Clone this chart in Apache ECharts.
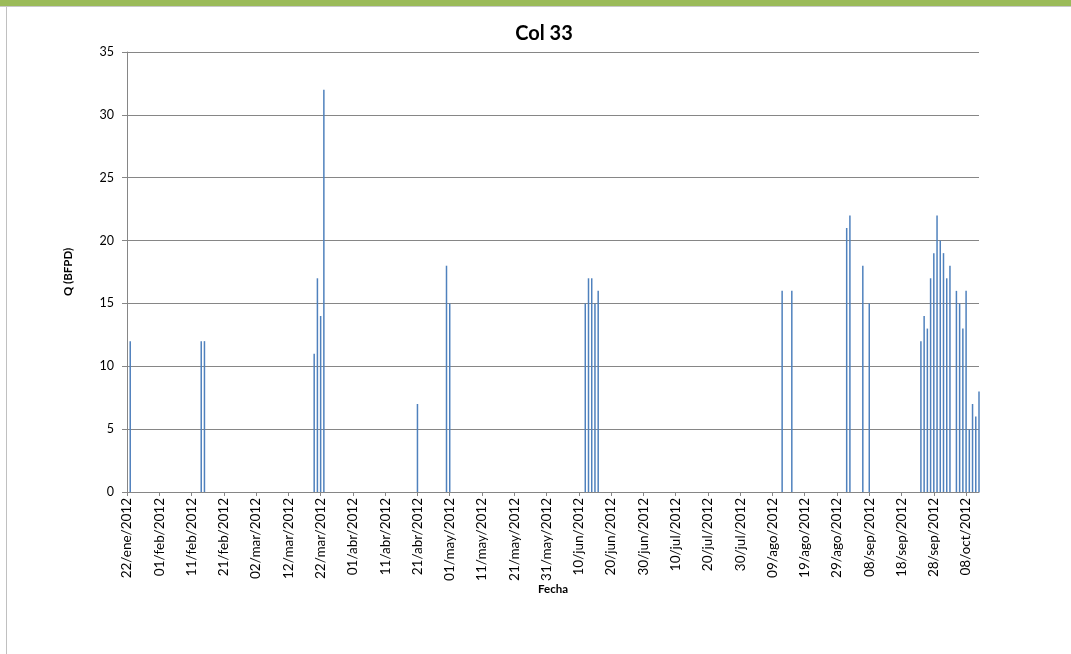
<!DOCTYPE html>
<html>
<head>
<meta charset="utf-8">
<title>Col 33</title>
<script src="https://cdn.jsdelivr.net/npm/echarts@6/dist/echarts.min.js"></script>
<style>
  html, body { margin: 0; padding: 0; background: #ffffff; }
  #chart { width: 1071px; height: 654px; }
</style>
</head>
<body>
<div id="chart"></div>
<script>
// Daily production readings for well Col 33 (barrels of fluid per day)
const fechas = [
  '2012-01-23', '2012-02-14', '2012-02-15',
  '2012-03-20', '2012-03-21', '2012-03-22', '2012-03-23',
  '2012-04-21', '2012-04-30', '2012-05-01',
  '2012-06-12', '2012-06-13', '2012-06-14', '2012-06-15', '2012-06-16',
  '2012-08-12', '2012-08-15',
  '2012-09-01', '2012-09-02', '2012-09-06', '2012-09-08',
  '2012-09-24', '2012-09-25', '2012-09-26', '2012-09-27', '2012-09-28',
  '2012-09-29', '2012-09-30', '2012-10-01', '2012-10-02', '2012-10-03',
  '2012-10-05', '2012-10-06', '2012-10-07', '2012-10-08', '2012-10-09',
  '2012-10-10', '2012-10-11', '2012-10-12'
];
const caudal = [
  12, 12, 12,
  11, 17, 14, 32,
  7, 18, 15,
  15, 17, 17, 15, 16,
  16, 16,
  21, 22, 18, 15,
  12, 14, 13, 17, 19,
  22, 20, 19, 17, 18,
  16, 15, 13, 16, 5,
  7, 6, 8
];

// Date axis labels, one every 10 days from the first date
const etiquetasFecha = [
  '22/ene/2012', '01/feb/2012', '11/feb/2012', '21/feb/2012', '02/mar/2012',
  '12/mar/2012', '22/mar/2012', '01/abr/2012', '11/abr/2012', '21/abr/2012',
  '01/may/2012', '11/may/2012', '21/may/2012', '31/may/2012', '10/jun/2012',
  '20/jun/2012', '30/jun/2012', '10/jul/2012', '20/jul/2012', '30/jul/2012',
  '09/ago/2012', '19/ago/2012', '29/ago/2012', '08/sep/2012', '18/sep/2012',
  '28/sep/2012', '08/oct/2012'
];
const fechaInicio = '2012-01-22';
const fechaFin = '2012-10-12';
const pasoDias = 10;

// x position = whole days elapsed since the axis start date
const DIA = 86400000;
const diaDe = s => Math.round((Date.parse(s + 'T00:00:00Z') - Date.parse(fechaInicio + 'T00:00:00Z')) / DIA);
const puntos = fechas.map((f, i) => [diaDe(f), caudal[i]]);
const marcas = etiquetasFecha.map((_, i) => i * pasoDias);

const FONT = 'Lato, "Open Sans", sans-serif';
const GRIS = '#868686';

const chart = echarts.init(document.getElementById('chart'), null, { renderer: 'canvas' });
chart.setOption({
  backgroundColor: '#ffffff',
  animation: false,
  title: {
    text: 'Col 33',
    left: 539,
    top: 19,
    textAlign: 'center',
    textStyle: { fontFamily: FONT, fontWeight: 'bold', fontSize: 20, color: '#000000' }
  },
  graphic: [
    { type: 'rect', shape: { x: 0, y: 0, width: 1071, height: 6 }, style: { fill: '#9bbb59' }, silent: true },
    { type: 'rect', shape: { x: 0, y: 6, width: 1071, height: 1 }, style: { fill: '#c8c8c8' }, silent: true },
    { type: 'rect', shape: { x: 6, y: 7, width: 1, height: 647 }, style: { fill: '#c0c0c0' }, silent: true }
  ],
  grid: { left: 127, right: 92, top: 52, bottom: 162, containLabel: false },
  xAxis: {
    type: 'value',
    min: 0,
    max: diaDe(fechaFin),
    interval: pasoDias,
    name: 'Fecha',
    nameLocation: 'middle',
    nameGap: 91,
    nameMoveOverlap: false,
    nameTextStyle: { fontFamily: FONT, fontWeight: 'bold', fontSize: 11.5, color: '#000000' },
    axisLine: { show: true, lineStyle: { color: GRIS, width: 1 } },
    axisTick: { show: true, length: 4, customValues: marcas, lineStyle: { color: GRIS } },
    axisLabel: {
      customValues: marcas,
      rotate: 90,
      margin: 6,
      fontFamily: FONT,
      fontSize: 13.5,
      color: '#000000',
      formatter: v => etiquetasFecha[Math.round(v / pasoDias)] || ''
    },
    splitLine: { show: false }
  },
  yAxis: {
    type: 'value',
    min: 0,
    max: 35,
    interval: 5,
    name: 'Q (BFPD)',
    nameLocation: 'middle',
    nameGap: 53,
    nameMoveOverlap: false,
    nameTextStyle: { fontFamily: FONT, fontWeight: 'bold', fontSize: 11.5, color: '#000000' },
    axisLine: { show: true, lineStyle: { color: GRIS, width: 1 } },
    axisTick: { show: true, inside: false, length: 5, lineStyle: { color: GRIS } },
    axisLabel: { margin: 13, fontFamily: FONT, fontSize: 12.5, color: '#000000' },
    splitLine: { show: true, lineStyle: { color: GRIS, width: 1 } }
  },
  series: [{
    type: 'bar',
    data: puntos,
    barWidth: 1.5,
    itemStyle: { color: '#4f81bd' }
  }]
});
</script>
</body>
</html>
